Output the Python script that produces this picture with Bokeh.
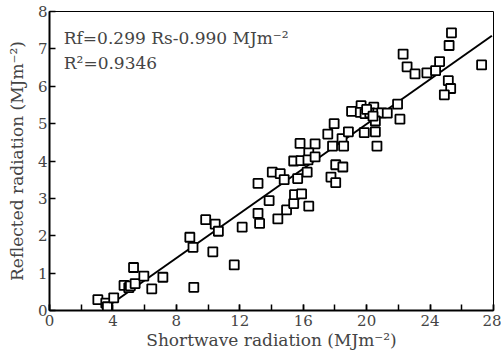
from bokeh.plotting import figure
from bokeh.models import Range1d, SingleIntervalTicker, Label, ColumnDataSource
from bokeh.embed import file_html
from bokeh.resources import INLINE

# Shortwave radiation (Rs) and reflected radiation (Rf), MJ m-2
rs = [3.05, 3.55, 3.65, 4.05, 4.70, 5.00, 5.10, 5.30, 5.40, 5.95, 6.45, 7.15,
      8.85, 9.05, 9.10, 9.85, 10.45, 10.65, 10.30, 11.65, 12.15,
      13.15, 13.15, 13.25, 13.85, 14.40, 14.95, 15.40, 15.45, 15.90, 16.35,
      14.05, 14.55, 14.80, 15.65, 16.25, 17.75, 18.05,
      15.40, 15.85, 15.80, 16.75, 16.35, 16.30, 16.75, 17.55, 18.05, 18.50,
      17.95, 18.45, 18.55, 18.85, 17.85,
      19.05, 19.65, 20.45, 19.60, 19.90, 20.20, 20.70, 20.95, 21.30, 21.95,
      22.10, 20.55, 19.85, 20.55, 20.65, 20.00, 20.40,
      22.30, 22.55, 23.05, 23.80, 24.35, 24.60, 25.15, 25.30, 24.90,
      25.35, 25.20, 27.25]
rf = [0.29, 0.20, 0.10, 0.34, 0.67, 0.61, 0.66, 1.15, 0.72, 0.92, 0.58, 0.89,
      1.96, 1.69, 0.62, 2.43, 2.31, 2.12, 1.57, 1.22, 2.23,
      3.40, 2.60, 2.33, 2.94, 2.45, 2.69, 2.86, 3.10, 3.12, 2.79,
      3.70, 3.66, 3.50, 3.53, 3.70, 3.57, 3.42,
      4.00, 4.01, 4.47, 4.46, 4.22, 4.03, 4.11, 4.72, 3.90, 3.84,
      5.00, 4.60, 4.40, 4.78, 4.40,
      5.33, 5.48, 5.44, 5.30, 5.27, 5.29, 5.28, 5.29, 5.28, 5.52,
      5.12, 5.07, 4.76, 4.78, 4.40, 5.38, 5.20,
      6.86, 6.52, 6.33, 6.36, 6.42, 6.66, 6.15, 5.94, 5.77,
      7.43, 7.09, 6.57]

slope = 0.299
intercept = -0.990
fit_x = [3.8, 27.9]
fit_y = [slope * v + intercept for v in fit_x]

FONT = "DejaVu Serif"

p = figure(width=501, height=355, output_backend="svg", toolbar_location=None,
           x_range=Range1d(0, 28), y_range=Range1d(0, 8),
           min_border_left=49, min_border_right=8, min_border_top=11,
           min_border_bottom=45, background_fill_color="white")

p.xgrid.visible = False
p.ygrid.visible = False
p.outline_line_color = "black"
p.outline_line_width = 1

src = ColumnDataSource(dict(x=rs, y=rf))
p.line(fit_x, fit_y, line_color="black", line_width=2)
p.scatter("x", "y", source=src, marker="square", size=9,
          fill_color="white", line_color="black", line_width=1.8)

xa = p.xaxis[0]
xa.ticker = SingleIntervalTicker(interval=4, num_minor_ticks=2)
xa.axis_line_width = 2
xa.major_tick_in = 6
xa.major_tick_out = 0
xa.minor_tick_in = 6
xa.minor_tick_out = 0
xa.major_tick_line_width = 1.5
xa.minor_tick_line_width = 1.5
xa.major_label_standoff = 4
xa.major_label_text_font = FONT
xa.major_label_text_font_size = "15px"
xa.axis_label = "Shortwave radiation (MJm⁻²)"
xa.axis_label_text_font = FONT
xa.axis_label_text_font_size = "17px"
xa.axis_label_text_font_style = "normal"
xa.axis_label_standoff = 1

ya = p.yaxis[0]
ya.ticker = SingleIntervalTicker(interval=1, num_minor_ticks=0)
ya.axis_line_width = 2
ya.major_tick_in = 6
ya.major_tick_out = 0
ya.minor_tick_line_color = None
ya.major_tick_line_width = 1.5
ya.major_label_standoff = 2
ya.major_label_text_font = FONT
ya.major_label_text_font_size = "15px"
ya.axis_label = "Reflected radiation (MJm⁻²)"
ya.axis_label_text_font = FONT
ya.axis_label_text_font_size = "17px"
ya.axis_label_text_font_style = "normal"
ya.axis_label_standoff = 8

p.add_layout(Label(x=0.9, y=7.3, text="Rf=0.299 Rs-0.990  MJm⁻²",
                   text_font=FONT, text_font_size="17px",
                   text_baseline="alphabetic"))
p.add_layout(Label(x=0.9, y=6.63, text="R²=0.9346",
                   text_font=FONT, text_font_size="17px",
                   text_baseline="alphabetic"))

open("out.html", "w").write(file_html(p, INLINE))
